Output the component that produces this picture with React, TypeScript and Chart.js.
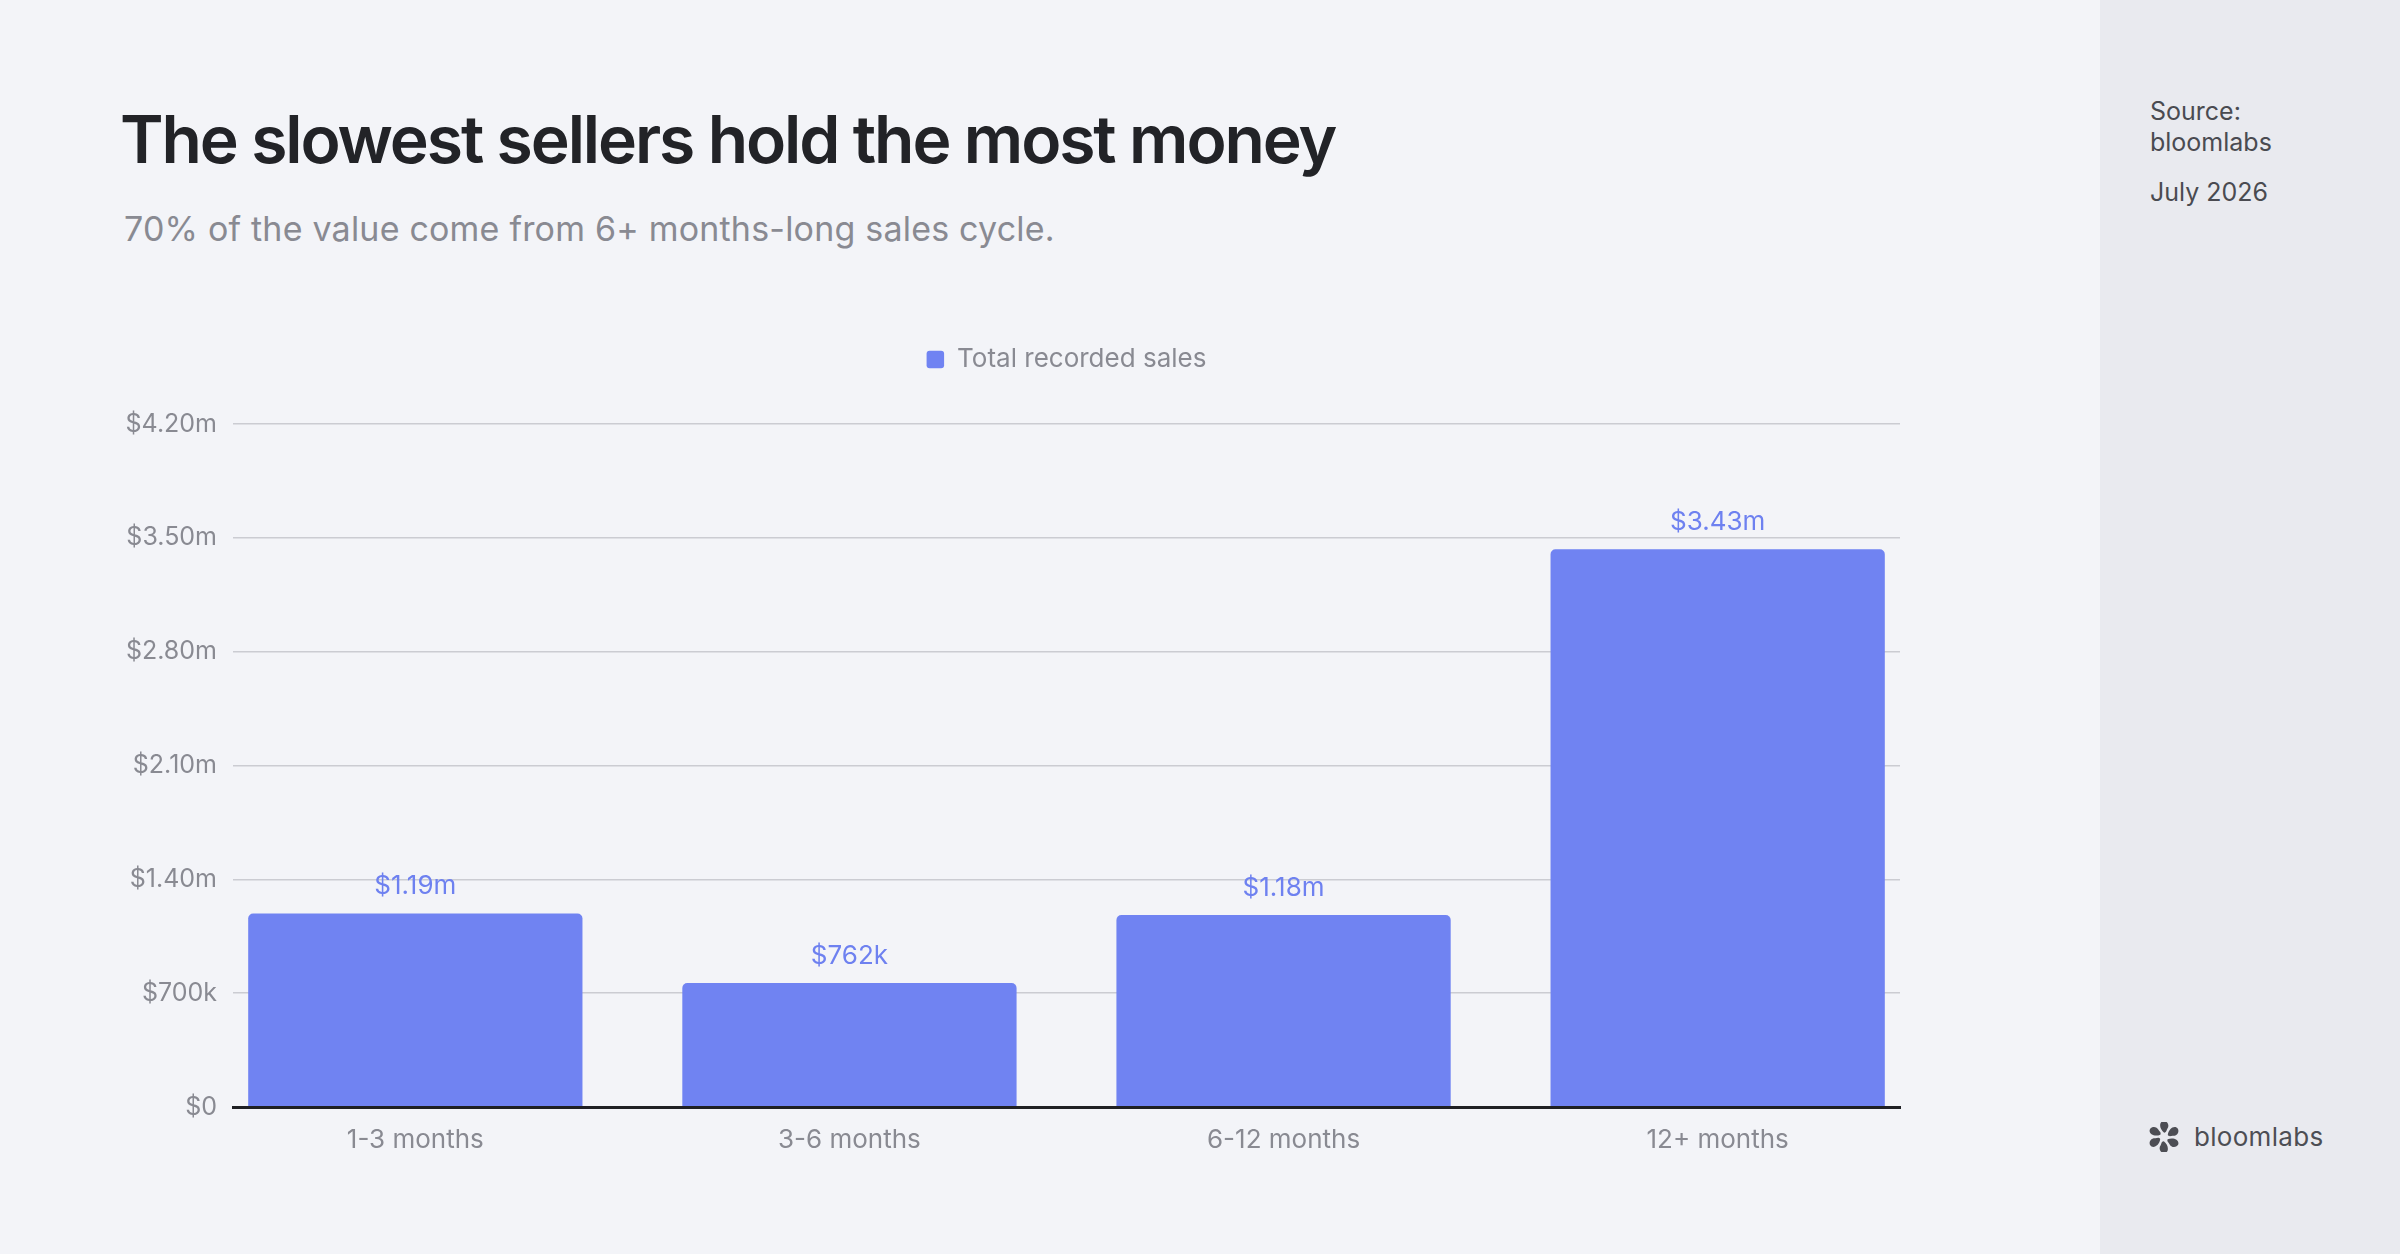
import { useEffect, useRef } from "react"
import { Chart, registerables } from "chart.js"

Chart.register(...registerables)

// values in $ millions
const categories = ["1-3 months", "3-6 months", "6-12 months", "12+ months"]
const sales = [1.19, 0.762, 1.18, 3.43]
const yTicks = [0, 0.7, 1.4, 2.1, 2.8, 3.5, 4.2]
const seriesLabel = "Total recorded sales"

const FONT = "Inter, 'Noto Sans', sans-serif"
const GREY = "#898a92"
const BAR = "#7083f2"

function money(v: number) {
  if (v === 0) return "$0"
  if (v < 1) return `$${Math.round(v * 1000)}k`
  return `$${v.toFixed(2)}m`
}

// push the plot area further down below the legend
const legendGap = {
  id: "legendGap",
  beforeInit(chart: any) {
    const fit = chart.legend.fit
    chart.legend.fit = function () {
      fit.call(this)
      this.height += 41.5
    }
  },
}

const barValues = {
  id: "barValues",
  afterDatasetsDraw(chart: any) {
    const { ctx } = chart
    const meta = chart.getDatasetMeta(0)
    ctx.save()
    ctx.font = `26px ${FONT}`
    ctx.fillStyle = "#6e81f0"
    ctx.textAlign = "center"
    ctx.textBaseline = "alphabetic"
    meta.data.forEach((bar: any, i: number) => {
      ctx.fillText(money(sales[i]), bar.x, bar.y - 19.5)
    })
    ctx.restore()
  },
}

function SalesChart() {
  const chartRef = useRef<HTMLCanvasElement>(null)
  const chartInstance = useRef<Chart | null>(null)

  useEffect(() => {
    let cancelled = false

    const build = () => {
      if (cancelled || !chartRef.current) return
      if (chartInstance.current) chartInstance.current.destroy()
      const ctx = chartRef.current.getContext("2d")
      if (!ctx) return

      Chart.defaults.font.family = FONT

      chartInstance.current = new Chart(ctx, {
        type: "bar",
        data: {
          datasets: [
            {
              label: seriesLabel,
              data: sales.map((y, x) => ({ x, y })),
              backgroundColor: BAR,
              borderRadius: 5,
              barPercentage: 0.77,
              categoryPercentage: 1,
            },
          ],
        },
        options: {
          animation: false,
          responsive: true,
          maintainAspectRatio: false,
          layout: { padding: { top: 34.5, right: 10, bottom: 0, left: 0 } },
          plugins: {
            tooltip: { enabled: false },
            legend: {
              position: "top",
              fullSize: false,
              labels: {
                color: GREY,
                font: { size: 26 },
                boxWidth: 17.5,
                boxHeight: 17.5,
                padding: 10,
                useBorderRadius: true,
                borderRadius: 3,
              },
            },
          },
          scales: {
            x: {
              type: "linear",
              offset: false,
              min: -0.42,
              max: 3.42,
              grid: { display: false, drawTicks: false, offset: false },
              border: { display: true, color: "#1f2024", width: 3, z: 1 },
              afterBuildTicks: (scale: any) => {
                scale.ticks = categories.map((_, i) => ({ value: i }))
              },
              afterFit: (scale: any) => {
                scale.height = 75
              },
              ticks: {
                color: GREY,
                font: { size: 26 },
                padding: 17.5,
                autoSkip: false,
                maxRotation: 0,
                callback: (v: any) => categories[v] ?? "",
              },
            },
            y: {
              min: 0,
              max: 4.2,
              grid: { color: "#cbccd2", lineWidth: 1.5, drawTicks: false },
              border: { display: false },
              afterBuildTicks: (scale: any) => {
                scale.ticks = yTicks.map((value) => ({ value }))
              },
              afterFit: (scale: any) => {
                scale.width = 133
              },
              ticks: {
                color: GREY,
                font: { size: 25 },
                padding: 16,
                callback: (v: any) => money(Number(v)),
              },
            },
          },
        },
        plugins: [legendGap, barValues],
      } as any)
    }

    if (document.fonts && document.fonts.load) {
      Promise.all([
        document.fonts.load(`26px Inter`),
        document.fonts.load(`600 66px Inter`),
      ])
        .catch(() => null)
        .then(build)
    } else {
      build()
    }

    return () => {
      cancelled = true
      if (chartInstance.current) {
        chartInstance.current.destroy()
        chartInstance.current = null
      }
    }
  }, [])

  return (
    <div style={{ position: "absolute", left: 100, top: 302, width: 1810, height: 880 }}>
      <canvas ref={chartRef} />
    </div>
  )
}

function Logo() {
  const petals = [0, 60, 120, 180, 240, 300]
  return (
    <svg width="30" height="30" viewBox="-15 -15 30 30" style={{ position: "absolute", left: 2149, top: 1122 }}>
      {petals.map((a) => (
        <path
          key={a}
          transform={`rotate(${a})`}
          d="M 3.8,-2 C 4.5,-8.5 11,-12.5 14,-8 C 15.5,-4.5 12.5,-0.8 9,-1.2 C 7,-1.4 5.5,0.2 3.8,-2 Z"
          fill="#4d4e54"
        />
      ))}
    </svg>
  )
}

export default function App() {
  return (
    <div
      style={{
        position: "fixed",
        left: 0,
        top: 0,
        width: 2400,
        height: 1254,
        background: "#f3f4f8",
        fontFamily: FONT,
        overflow: "hidden",
      }}
    >
      <div
        style={{
          position: "absolute",
          left: 120,
          top: 106,
          margin: 0,
          fontSize: 66,
          lineHeight: 1,
          fontWeight: 600,
          letterSpacing: "-0.032em",
          color: "#222327",
          whiteSpace: "nowrap",
        }}
      >
        The slowest sellers hold the most money
      </div>
      <div
        style={{
          position: "absolute",
          left: 124,
          top: 212,
          fontSize: 34,
          lineHeight: 1,
          letterSpacing: "0.2px",
          color: GREY,
          whiteSpace: "nowrap",
        }}
      >
        70% of the value come from 6+ months-long sales cycle.
      </div>

      <SalesChart />

      <div
        style={{
          position: "absolute",
          left: 2100,
          top: 0,
          width: 300,
          height: 1254,
          background: "#e9eaef",
        }}
      >
        <div
          style={{
            position: "absolute",
            left: 50,
            top: 96,
            fontSize: 25,
            lineHeight: "30.5px",
            color: "#4a4b51",
          }}
        >
          <div>Source:</div>
          <div>bloomlabs</div>
          <div style={{ marginTop: 20 }}>July 2026</div>
        </div>
      </div>

      <Logo />
      <div
        style={{
          position: "absolute",
          left: 2194,
          top: 1124,
          fontSize: 26,
          lineHeight: 1,
          letterSpacing: "0.3px",
          color: "#4d4e54",
        }}
      >
        bloomlabs
      </div>
    </div>
  )
}
